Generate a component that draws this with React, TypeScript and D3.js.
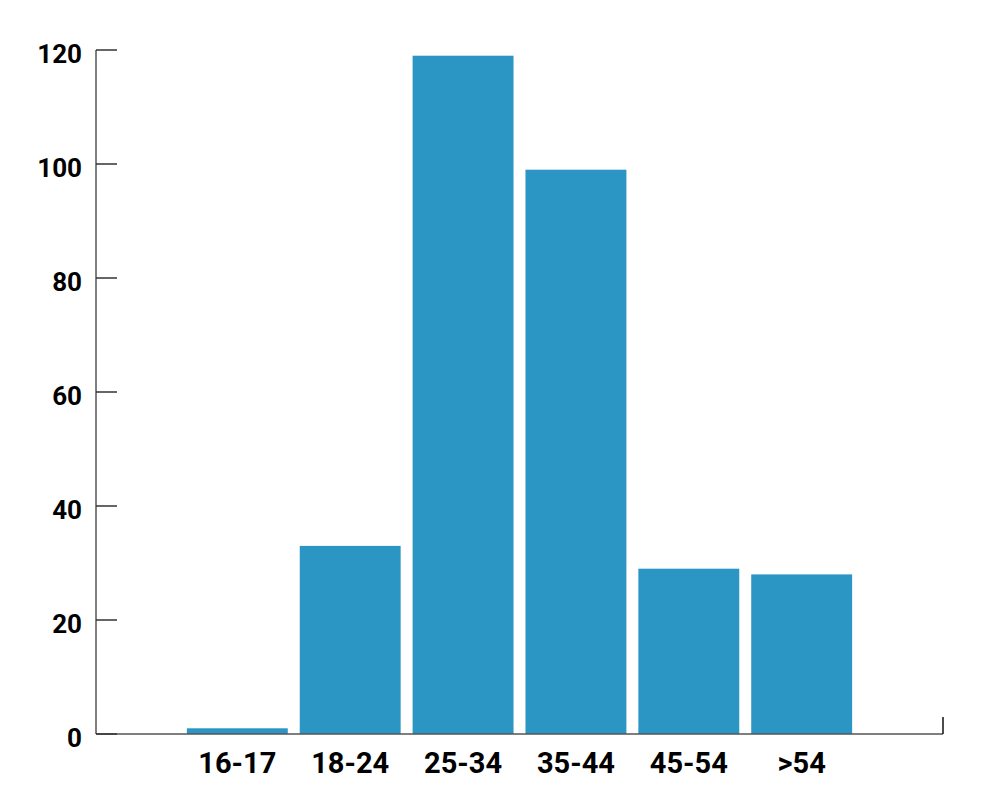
import { useEffect, useRef } from 'react';
import * as d3 from 'd3';

const categories = ['16-17', '18-24', '25-34', '35-44', '45-54', '>54'];
const counts = [1, 33, 119, 99, 29, 28];
const yTicks = [0, 20, 40, 60, 80, 100, 120];

export default function App() {
  const svgRef = useRef<SVGSVGElement>(null);

  useEffect(() => {
    if (!svgRef.current) return;
    const svg = d3.select(svgRef.current);
    svg.selectAll('*').remove();

    const left = 96;
    const right = 943;
    const top = 50;
    const bottom = 734;

    const x = d3.scaleBand<string>()
      .domain(categories)
      .range([left, right])
      .paddingInner(0.106)
      .paddingOuter(0.805);

    const y = d3.scaleLinear().domain([0, 120]).range([bottom, top]);

    // Bars
    svg.append('g')
      .selectAll('rect')
      .data(categories)
      .join('rect')
      .attr('x', d => x(d)!)
      .attr('y', (d, i) => y(counts[i]))
      .attr('width', x.bandwidth())
      .attr('height', (d, i) => bottom - y(counts[i]))
      .attr('fill', '#2b95c3');

    // Y axis line
    svg.append('line')
      .attr('x1', left).attr('x2', left)
      .attr('y1', top).attr('y2', bottom)
      .attr('stroke', '#555')
      .attr('stroke-width', 1.5);

    // X axis line
    svg.append('line')
      .attr('x1', left).attr('x2', right)
      .attr('y1', bottom).attr('y2', bottom)
      .attr('stroke', '#555')
      .attr('stroke-width', 1.5);

    // right end tick
    svg.append('line')
      .attr('x1', right).attr('x2', right)
      .attr('y1', bottom).attr('y2', bottom - 17)
      .attr('stroke', '#111')
      .attr('stroke-width', 1.5);

    // Y ticks (inward) + labels
    const yg = svg.append('g');
    yg.selectAll('line')
      .data(yTicks)
      .join('line')
      .attr('x1', left).attr('x2', left + 21)
      .attr('y1', d => y(d)).attr('y2', d => y(d))
      .attr('stroke', '#333')
      .attr('stroke-width', 1.5);

    yg.selectAll('text')
      .data(yTicks)
      .join('text')
      .attr('x', left - 14)
      .attr('y', d => y(d) + 13)
      .attr('text-anchor', 'end')
      .attr('font-family', 'Roboto, sans-serif')
      .attr('font-weight', 'bold')
      .attr('font-size', '26px')
      .attr('fill', '#000')
      .text(d => d);

    // X labels
    svg.append('g')
      .selectAll('text')
      .data(categories)
      .join('text')
      .attr('x', d => x(d)! + x.bandwidth() / 2)
      .attr('y', bottom + 39)
      .attr('text-anchor', 'middle')
      .attr('font-family', 'Roboto, sans-serif')
      .attr('font-weight', 'bold')
      .attr('font-size', '29px')
      .attr('fill', '#000')
      .text(d => d);
  }, []);

  return (
    <svg
      ref={svgRef}
      width={1000}
      height={800}
      style={{ position: 'absolute', left: 0, top: 0, background: '#fff' }}
    />
  );
}
